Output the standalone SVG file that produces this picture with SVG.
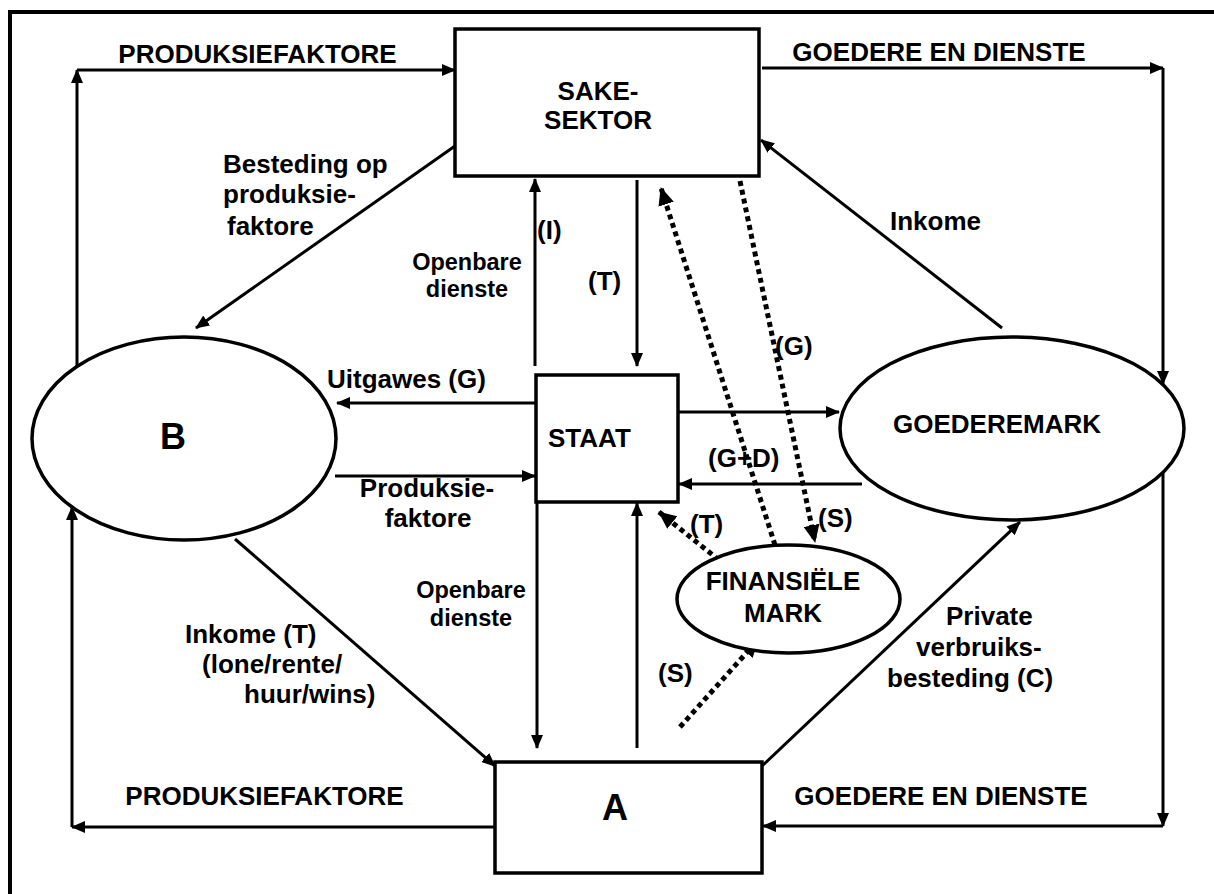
<svg xmlns="http://www.w3.org/2000/svg" width="1214" height="894" viewBox="0 0 1214 894">
<style>
.t{font-family:"Liberation Sans",Arial,sans-serif;font-weight:bold;font-size:26px;fill:#000}
.s{font-size:23.5px}
.big{font-size:36px}
.box{fill:#fff;stroke:#000;stroke-width:3.5}
.c{fill:none;stroke:#000;stroke-width:3}
.d{fill:none;stroke:#000;stroke-width:5;stroke-dasharray:5 4}
</style>
<defs>
<marker id="ah" markerWidth="14" markerHeight="12" refX="13" refY="6" orient="auto" markerUnits="userSpaceOnUse"><path d="M0,0 L14,6 L0,12 z" fill="#000"/></marker>
<marker id="ahd" markerWidth="18" markerHeight="16" refX="17" refY="8" orient="auto" markerUnits="userSpaceOnUse"><path d="M0,0 L18,8 L0,16 z" fill="#000"/></marker>
</defs>
<rect width="1214" height="894" fill="#fff"/>
<g id="border">
<line x1="8" y1="12" x2="1214" y2="12" stroke="#000" stroke-width="4"/>
<line x1="10" y1="10" x2="10" y2="894" stroke="#000" stroke-width="4"/>
</g>
<g id="connectors">
<path class="c" d="M77,367 L77,70" marker-end="url(#ah)"/>
<path class="c" d="M77,70 L455,70" marker-end="url(#ah)"/>
<path class="c" d="M762,68 L1163,68" marker-end="url(#ah)"/>
<path class="c" d="M1163,68 L1163,384" marker-end="url(#ah)"/>
<path class="c" d="M1163,473 L1163,826" marker-end="url(#ah)"/>
<path class="c" d="M1163,826 L763,826" marker-end="url(#ah)"/>
<path class="c" d="M495,827 L72,827" marker-end="url(#ah)"/>
<path class="c" d="M72,827 L72,507" marker-end="url(#ah)"/>
<path class="c" d="M455,146 L196,328" marker-end="url(#ah)"/>
<path class="c" d="M1002,328 L761,140" marker-end="url(#ah)"/>
<path class="c" d="M535,366 L535,179" marker-end="url(#ah)"/>
<path class="c" d="M637,180 L637,366" marker-end="url(#ah)"/>
<path class="c" d="M536,403 L337,403" marker-end="url(#ah)"/>
<path class="c" d="M335,476 L535,476" marker-end="url(#ah)"/>
<path class="c" d="M678,412 L839,412" marker-end="url(#ah)"/>
<path class="c" d="M862,484 L679,484" marker-end="url(#ah)"/>
<path class="c" d="M537,503 L537,748" marker-end="url(#ah)"/>
<path class="c" d="M637,748 L637,503" marker-end="url(#ah)"/>
<path class="c" d="M235,539 L495,766" marker-end="url(#ah)"/>
<path class="c" d="M762,766 L1020,522" marker-end="url(#ah)"/>
<path class="d" d="M775,545 L661,188" marker-end="url(#ahd)"/>
<path class="d" d="M740,181 L815,542" marker-end="url(#ahd)"/>
<path class="d" d="M719,560 L659,512" marker-end="url(#ahd)"/>
<path class="d" d="M680,727 L758,640" marker-end="url(#ahd)"/>
</g>
<g id="sake">
<rect class="box" x="455" y="29" width="304" height="147"/>
<text class="t" x="598" y="100" text-anchor="middle">SAKE-</text>
<text class="t" x="598" y="129" text-anchor="middle">SEKTOR</text>
</g>
<g id="staat">
<rect class="box" x="536" y="375" width="142" height="127"/>
<text class="t" x="548" y="447">STAAT</text>
</g>
<g id="a">
<rect class="box" x="495" y="762" width="267" height="111"/>
<text class="t big" x="602" y="820">A</text>
</g>
<g id="b">
<ellipse class="box" cx="184" cy="438.5" rx="152" ry="101.5"/>
<text class="t big" x="160" y="449">B</text>
</g>
<g id="goederemark">
<ellipse class="box" cx="1012" cy="428.5" rx="172" ry="91.5"/>
<text class="t" x="893" y="433">GOEDEREMARK</text>
</g>
<g id="finansiele">
<ellipse class="box" cx="788.5" cy="599" rx="111.5" ry="54"/>
<text class="t" x="783" y="590" text-anchor="middle">FINANSIËLE</text>
<text class="t" x="783" y="622" text-anchor="middle">MARK</text>
</g>
<g id="labels">
<text class="t" x="257.5" y="63" text-anchor="middle">PRODUKSIEFAKTORE</text>
<text class="t" x="939" y="61" text-anchor="middle">GOEDERE EN DIENSTE</text>
<text class="t" x="223" y="173">Besteding op</text>
<text class="t" x="223" y="203">produksie-</text>
<text class="t" x="227" y="235">faktore</text>
<text class="t" x="537" y="239">(I)</text>
<text class="t s" x="467" y="270" text-anchor="middle">Openbare</text>
<text class="t s" x="467" y="297" text-anchor="middle">dienste</text>
<text class="t" x="588" y="290">(T)</text>
<text class="t" x="775" y="355">(G)</text>
<text class="t" x="890" y="230">Inkome</text>
<text class="t" x="327" y="388">Uitgawes (G)</text>
<text class="t" x="708" y="467">(G+D)</text>
<text class="t" x="427" y="497" text-anchor="middle">Produksie-</text>
<text class="t" x="428" y="527" text-anchor="middle">faktore</text>
<text class="t s" x="471" y="598" text-anchor="middle">Openbare</text>
<text class="t s" x="471" y="626" text-anchor="middle">dienste</text>
<text class="t" x="690" y="533">(T)</text>
<text class="t" x="818" y="527">(S)</text>
<text class="t" x="658" y="682">(S)</text>
<text class="t" x="946" y="625">Private</text>
<text class="t" x="916" y="656">verbruiks-</text>
<text class="t" x="887" y="687">besteding (C)</text>
<text class="t" x="185" y="643">Inkome (T)</text>
<text class="t" x="202" y="673">(lone/rente/</text>
<text class="t" x="244" y="703">huur/wins)</text>
<text class="t" x="264.5" y="805" text-anchor="middle">PRODUKSIEFAKTORE</text>
<text class="t" x="941" y="805" text-anchor="middle">GOEDERE EN DIENSTE</text>
</g>
</svg>
